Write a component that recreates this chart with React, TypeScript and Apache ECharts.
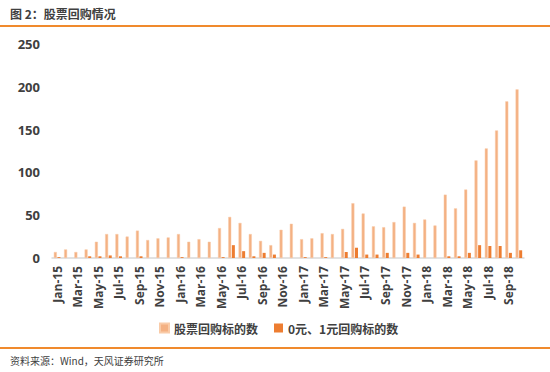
import React, { useEffect, useRef } from "react";
import * as echarts from "echarts";

const categories = [
  "Jan-15","Feb-15","Mar-15","Apr-15","May-15","Jun-15","Jul-15","Aug-15","Sep-15","Oct-15","Nov-15","Dec-15",
  "Jan-16","Feb-16","Mar-16","Apr-16","May-16","Jun-16","Jul-16","Aug-16","Sep-16","Oct-16","Nov-16","Dec-16",
  "Jan-17","Feb-17","Mar-17","Apr-17","May-17","Jun-17","Jul-17","Aug-17","Sep-17","Oct-17","Nov-17","Dec-17",
  "Jan-18","Feb-18","Mar-18","Apr-18","May-18","Jun-18","Jul-18","Aug-18","Sep-18","Oct-18",
];

const buybackTargets = [
  7, 10, 7, 10, 19, 28, 28, 25, 32, 21, 23, 24,
  28, 19, 22, 19, 35, 48, 41, 28, 20, 15, 33, 40,
  22, 23, 29, 28, 34, 64, 52, 37, 36, 42, 60, 41,
  45, 38, 74, 58, 80, 114, 128, 149, 183, 197,
];

const zeroOneYuanTargets = [
  1, 0, 0, 2, 2, 3, 2, 0, 2, 0, 0, 0,
  1, 0, 0, 0, 1, 15, 8, 2, 6, 4, 0, 0,
  1, 0, 1, 0, 7, 12, 4, 4, 6, 0, 6, 4,
  0, 0, 2, 2, 6, 15, 14, 14, 6, 9,
];

const seriesNames = ["股票回购标的数", "0元、1元回购标的数"];
const yTicks = { min: 0, max: 250, interval: 50 };

export default function App() {
  const ref = useRef<HTMLDivElement>(null);
  useEffect(() => {
    if (!ref.current) return;
    const chart = echarts.init(ref.current, undefined, { renderer: "svg" });
    const font = "'Open Sans', 'Noto Sans CJK SC', sans-serif";
    const cjk = "'Noto Sans CJK SC', sans-serif";
    chart.setOption({
      animation: false,
      backgroundColor: "#ffffff",
      textStyle: { fontFamily: font },
      graphic: [
        {
          type: "text",
          left: 10,
          top: 7,
          style: { text: "图 2：股票回购情况", fontSize: 12, fontWeight: "bold", fill: "#404040", fontFamily: cjk },
        },
        { type: "rect", left: 0, top: 25, shape: { width: 550, height: 2 }, style: { fill: "#F08A2D" } },
        { type: "rect", left: 0, top: 347, shape: { width: 550, height: 2 }, style: { fill: "#F08A2D" } },
        {
          type: "text",
          left: 10,
          top: 355,
          style: { text: "资料来源：Wind，天风证券研究所", fontSize: 10, fill: "#404040", fontFamily: cjk },
        },
      ],
      legend: {
        top: 317,
        left: 154,
        icon: "rect",
        itemWidth: 9,
        itemHeight: 9,
        itemGap: 16,
        textStyle: { fontSize: 12, color: "#404040", fontFamily: cjk, fontWeight: "bold" },
        data: seriesNames,
      },
      grid: { left: 52, right: 26, top: 44, bottom: 114, containLabel: false },
      xAxis: {
        type: "category",
        data: categories,
        axisLine: { lineStyle: { color: "#D9D9D9", width: 1.5 } },
        axisTick: { show: false },
        axisLabel: { rotate: 90, interval: 1, fontSize: 12, color: "#404040", fontWeight: "bold", margin: 8 },
      },
      yAxis: {
        type: "value",
        min: yTicks.min,
        max: yTicks.max,
        interval: yTicks.interval,
        axisLine: { show: false },
        axisTick: { show: false },
        splitLine: { show: false },
        axisLabel: { fontSize: 13, color: "#404040", fontWeight: "bold", margin: 12 },
      },
      series: [
        {
          name: seriesNames[0],
          type: "bar",
          data: buybackTargets,
          barWidth: 3,
          barGap: "20%",
          itemStyle: { color: "#F4B183", borderColor: "#F9CBA8", borderWidth: 0.5 },
        },
        {
          name: seriesNames[1],
          type: "bar",
          data: zeroOneYuanTargets,
          barWidth: 3,
          itemStyle: { color: "#ED7D31" },
        },
      ],
    });
    return () => chart.dispose();
  }, []);
  return <div ref={ref} style={{ position: "fixed", left: 0, top: 0, width: 550, height: 372 }} />;
}
